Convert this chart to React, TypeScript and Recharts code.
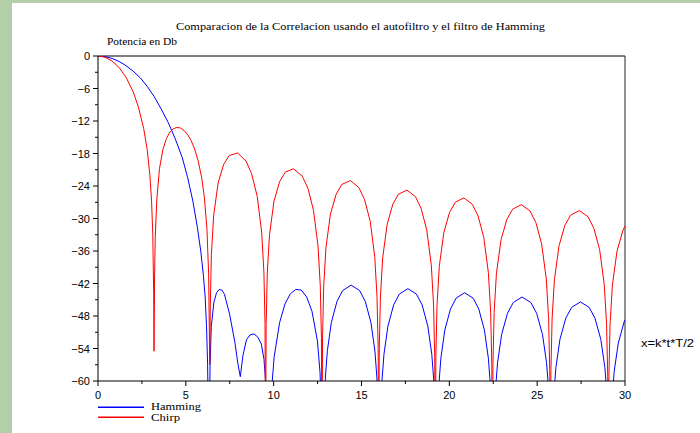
import React from 'react';
import { LineChart, Line, XAxis, YAxis, ReferenceLine } from 'recharts';

// Chirp (red) curve: x = k*t*T/2, value in dB
const chirpK = [
  0, 0.4, 0.8, 1.2, 1.6, 2.0, 2.3, 2.6, 2.8, 2.95, 3.05, 3.12, 3.17, 3.19,
  3.22, 3.26, 3.35, 3.5, 3.7, 3.9, 4.1, 4.3, 4.5, 4.7, 4.9, 5.1, 5.3, 5.5, 5.7, 5.9, 6.05, 6.2, 6.3, 6.36,
  6.392, 6.455, 6.583, 6.837, 7.155, 7.473, 7.95, 8.427, 8.745, 9.063, 9.317, 9.445, 9.508, 9.54,
  9.572, 9.636, 9.765, 10.02, 10.34, 10.66, 11.13, 11.63, 11.95, 12.27, 12.525, 12.654, 12.718, 12.75,
  12.782, 12.847, 12.976, 13.234, 13.558, 13.88, 14.365, 14.85, 15.173, 15.496, 15.754, 15.883, 15.948, 15.98,
  16.012, 16.077, 16.205, 16.463, 16.785, 17.107, 17.59, 18.073, 18.395, 18.717, 18.975, 19.103, 19.168, 19.2,
  19.233, 19.298, 19.428, 19.688, 20.013, 20.338, 20.825, 21.313, 21.638, 21.963, 22.223, 22.353, 22.418, 22.45,
  22.483, 22.549, 22.681, 22.945, 23.275, 23.605, 24.1, 24.595, 24.925, 25.255, 25.519, 25.651, 25.717, 25.75,
  25.783, 25.849, 25.981, 26.245, 26.575, 26.905, 27.4, 27.895, 28.225, 28.555, 28.819, 28.951, 29.017, 29.05,
  29.083, 29.149, 29.281, 29.545, 29.875, 30,
];
const chirpDb = [
  0, -0.23, -0.92, -2.13, -3.95, -6.6, -9.4, -13.38, -17.27, -21.86, -26.8, -33.0, -44, -54.5,
  -40.6, -33.3, -26.4, -20.8, -17.2, -15.2, -14.0, -13.4, -13.2, -13.3, -13.76, -14.5, -15.6, -17.16, -19.33, -22.45, -25.95, -31.8, -40.4, -57,
  -46.07, -36.62, -29.49, -23.45, -20.0, -18.36, -17.9, -19.41, -21.74, -25.9, -32.51, -39.93, -49.52, -75,
  -49.58, -40.1, -32.92, -26.77, -23.19, -21.44, -20.82, -22.19, -24.43, -28.51, -35.06, -42.45, -52.02, -75,
  -52.07, -42.58, -35.37, -29.16, -25.52, -23.71, -23.01, -24.29, -26.49, -30.52, -37.03, -44.4, -53.97, -75,
  -54.0, -44.51, -37.27, -31.04, -27.36, -25.51, -24.75, -25.98, -28.15, -32.15, -38.63, -45.99, -55.55, -75,
  -55.58, -46.08, -38.84, -32.58, -28.87, -27.0, -26.2, -27.4, -29.54, -33.52, -39.99, -47.34, -56.89, -75,
  -56.92, -47.41, -40.16, -33.89, -30.16, -28.27, -27.44, -28.62, -30.74, -34.7, -41.16, -48.5, -58.05, -75,
  -58.08, -48.57, -41.31, -35.03, -31.28, -29.38, -28.53, -29.68, -31.79, -35.74, -42.19, -49.53, -59.08, -75,
  -59.1, -49.59, -42.33, -36.03, -32.28, -31.39,
];

// Hamming (blue) curve
const hammingK = [
  0, 0.4, 0.8, 1.2, 1.6, 2.0, 2.4, 2.8, 3.2, 3.6, 4.0, 4.4, 4.8, 5.1, 5.4, 5.65, 5.85, 6.0, 6.1, 6.18, 6.24, 6.31,
  6.38, 6.45, 6.6, 6.75, 6.9, 7.05, 7.2, 7.5, 7.8, 7.95, 8.1,
  8.25, 8.45, 8.65, 8.88, 9.1, 9.3, 9.45, 9.55, 9.72,
  9.87, 10.03, 10.34, 10.64, 10.95, 11.26, 11.57, 11.88, 12.18, 12.49, 12.64, 12.8,
  12.945, 13.058, 13.283, 13.605, 13.927, 14.41, 14.893, 15.215, 15.537, 15.762, 15.875, 16.02,
  16.166, 16.279, 16.506, 16.83, 17.154, 17.64, 18.126, 18.45, 18.774, 19.001, 19.114, 19.26,
  19.405, 19.518, 19.743, 20.065, 20.387, 20.87, 21.353, 21.675, 21.997, 22.222, 22.335, 22.48,
  22.629, 22.746, 22.978, 23.31, 23.642, 24.14, 24.638, 24.97, 25.302, 25.534, 25.651, 25.8,
  25.949, 26.066, 26.298, 26.63, 26.962, 27.46, 27.958, 28.29, 28.622, 28.854, 28.971, 29.12,
  29.269, 29.386, 29.618, 29.95, 30,
];
const hammingDb = [
  0, -0.1, -0.45, -1.0, -1.8, -2.8, -4.0, -5.6, -7.5, -9.8, -12.3, -15.3, -18.8, -22.4, -26.8, -31.5, -36.0, -40.5, -44.5, -50, -57, -75,
  -57, -49.9, -45.4, -43.7, -43.1, -43.2, -44.0, -47.8, -53, -56.5, -59.2,
  -55.3, -52.4, -51.5, -51.3, -51.9, -53.2, -56, -60.5, -75,
  -62, -55.5, -49.2, -45.8, -43.9, -43.1, -43.2, -44.5, -47.1, -52.6, -58.4, -75,
  -59.3, -54.4, -49.2, -45.3, -43.3, -42.3, -43.3, -45.3, -49.2, -54.4, -59.3, -75,
  -59.95, -55.05, -49.85, -45.95, -43.95, -42.95, -43.95, -45.95, -49.85, -55.05, -59.95, -75,
  -60.7, -55.8, -50.6, -46.7, -44.7, -43.7, -44.7, -46.7, -50.6, -55.8, -60.7, -75,
  -61.5, -56.6, -51.4, -47.5, -45.5, -44.5, -45.5, -47.5, -51.4, -56.6, -61.5, -75,
  -62.4, -57.5, -52.3, -48.4, -46.4, -45.4, -46.4, -48.4, -52.3, -57.5, -62.4, -75,
  -63.1, -58.2, -53.0, -49.1, -48.7,
];

const xTicks = [0, 2.5, 5, 7.5, 10, 12.5, 15, 17.5, 20, 22.5, 25, 27.5, 30];
const xMajor = [0, 5, 10, 15, 20, 25, 30];
const yTicks = [0, -3, -6, -9, -12, -15, -18, -21, -24, -27, -30, -33, -36, -39, -42, -45, -48, -51, -54, -57, -60];
const yMajor = [0, -6, -12, -18, -24, -30, -36, -42, -48, -54, -60];

const title = 'Comparacion de la Correlacion usando el autofiltro y el filtro de Hamming';
const yLabel = 'Potencia en Db';
const xLabel = 'x=k*t*T/2';
const seriesNames = ['Hamming', 'Chirp'];
const seriesColors = ['#0000ff', '#ff0000'];

const chirpData = chirpK.map((k, i) => ({ k, v: chirpDb[i] }));
const hammingData = hammingK.map((k, i) => ({ k, v: hammingDb[i] }));

const SANS = "'Liberation Sans', Arial, sans-serif";
const SERIF = "'Liberation Serif', 'Times New Roman', serif";

const fmt = (v: number) => (v === 0 ? '0' : v < 0 ? '\u2212' + Math.abs(v) : String(v));

const YTick = (props: any) => {
  const { x, y, payload } = props;
  const v = payload.value;
  const major = yMajor.includes(v);
  return (
    <g>
      <line x1={x - (major ? 5 : 3)} x2={x} y1={y} y2={y} stroke="#000" strokeWidth={1} />
      {major && (
        <text x={x - 8} y={y} dy={4} textAnchor="end" fontSize={11} fontFamily={SANS} fill="#000">
          {fmt(v)}
        </text>
      )}
    </g>
  );
};

const XTick = (props: any) => {
  const { x, y, payload } = props;
  const v = payload.value;
  const major = xMajor.includes(v);
  return (
    <g>
      <line x1={x} x2={x} y1={y} y2={y + (major ? 5 : 3)} stroke="#000" strokeWidth={1} />
      {major && (
        <text x={x} y={y + 18} textAnchor="middle" fontSize={11} fontFamily={SANS} fill="#000">
          {fmt(v)}
        </text>
      )}
    </g>
  );
};

export default function App() {
  return (
    <div style={{ position: 'absolute', left: 0, top: 0, width: 700, height: 433, background: '#b3cfa8', overflow: 'hidden' }}>
      <div style={{ position: 'absolute', left: 12, top: 3, width: 688, height: 430, background: '#ffffff' }} />
      <div style={{ position: 'absolute', left: 0, top: 0 }}>
        <LineChart width={700} height={433} margin={{ top: 56, right: 75, bottom: 32, left: 58 }}>
          <XAxis
            type="number"
            dataKey="k"
            domain={[0, 30]}
            ticks={xTicks}
            interval={0}
            tickSize={0}
            tickMargin={0}
            tickLine={false}
            axisLine={{ stroke: '#000', strokeWidth: 1 }}
            height={20}
            tick={<XTick />}
            allowDataOverflow
          />
          <YAxis
            type="number"
            dataKey="v"
            domain={[-60, 0]}
            ticks={yTicks}
            interval={0}
            tickSize={0}
            tickMargin={0}
            tickLine={false}
            axisLine={{ stroke: '#000', strokeWidth: 1 }}
            width={40}
            tick={<YTick />}
            allowDataOverflow
          />
          <ReferenceLine y={0} stroke="#000" strokeWidth={1} />
          <ReferenceLine x={30} stroke="#222" strokeWidth={1} />
          <Line
            data={hammingData}
            dataKey="v"
            type="linear"
            stroke={seriesColors[0]}
            strokeWidth={1}
            dot={false}
            activeDot={false}
            isAnimationActive={false}
            name={seriesNames[0]}
          />
          <Line
            data={chirpData}
            dataKey="v"
            type="linear"
            stroke={seriesColors[1]}
            strokeWidth={1}
            dot={false}
            activeDot={false}
            isAnimationActive={false}
            name={seriesNames[1]}
          />
        </LineChart>
      </div>
      <svg width={700} height={433} style={{ position: 'absolute', left: 0, top: 0, pointerEvents: 'none' }}>
        <text x={176} y={30} fontSize={11} fontFamily={SERIF} fill="#000" textLength={369} lengthAdjust="spacingAndGlyphs">
          {title}
        </text>
        <text x={107} y={45} fontSize={11} fontFamily={SERIF} fill="#000" textLength={70} lengthAdjust="spacingAndGlyphs">
          {yLabel}
        </text>
        <text x={641} y={347} fontSize={10} fontFamily={SANS} fill="#000" textLength={53} lengthAdjust="spacingAndGlyphs">
          {xLabel}
        </text>
        <rect x={98} y={406.5} width={46} height={1.5} fill={seriesColors[0]} />
        <text x={151} y={410} fontSize={11} fontFamily={SERIF} fill="#000" textLength={50} lengthAdjust="spacingAndGlyphs">
          {seriesNames[0]}
        </text>
        <rect x={98} y={416.5} width={46} height={1.5} fill={seriesColors[1]} />
        <text x={151} y={420.5} fontSize={11} fontFamily={SERIF} fill="#000" textLength={29} lengthAdjust="spacingAndGlyphs">
          {seriesNames[1]}
        </text>
      </svg>
    </div>
  );
}
